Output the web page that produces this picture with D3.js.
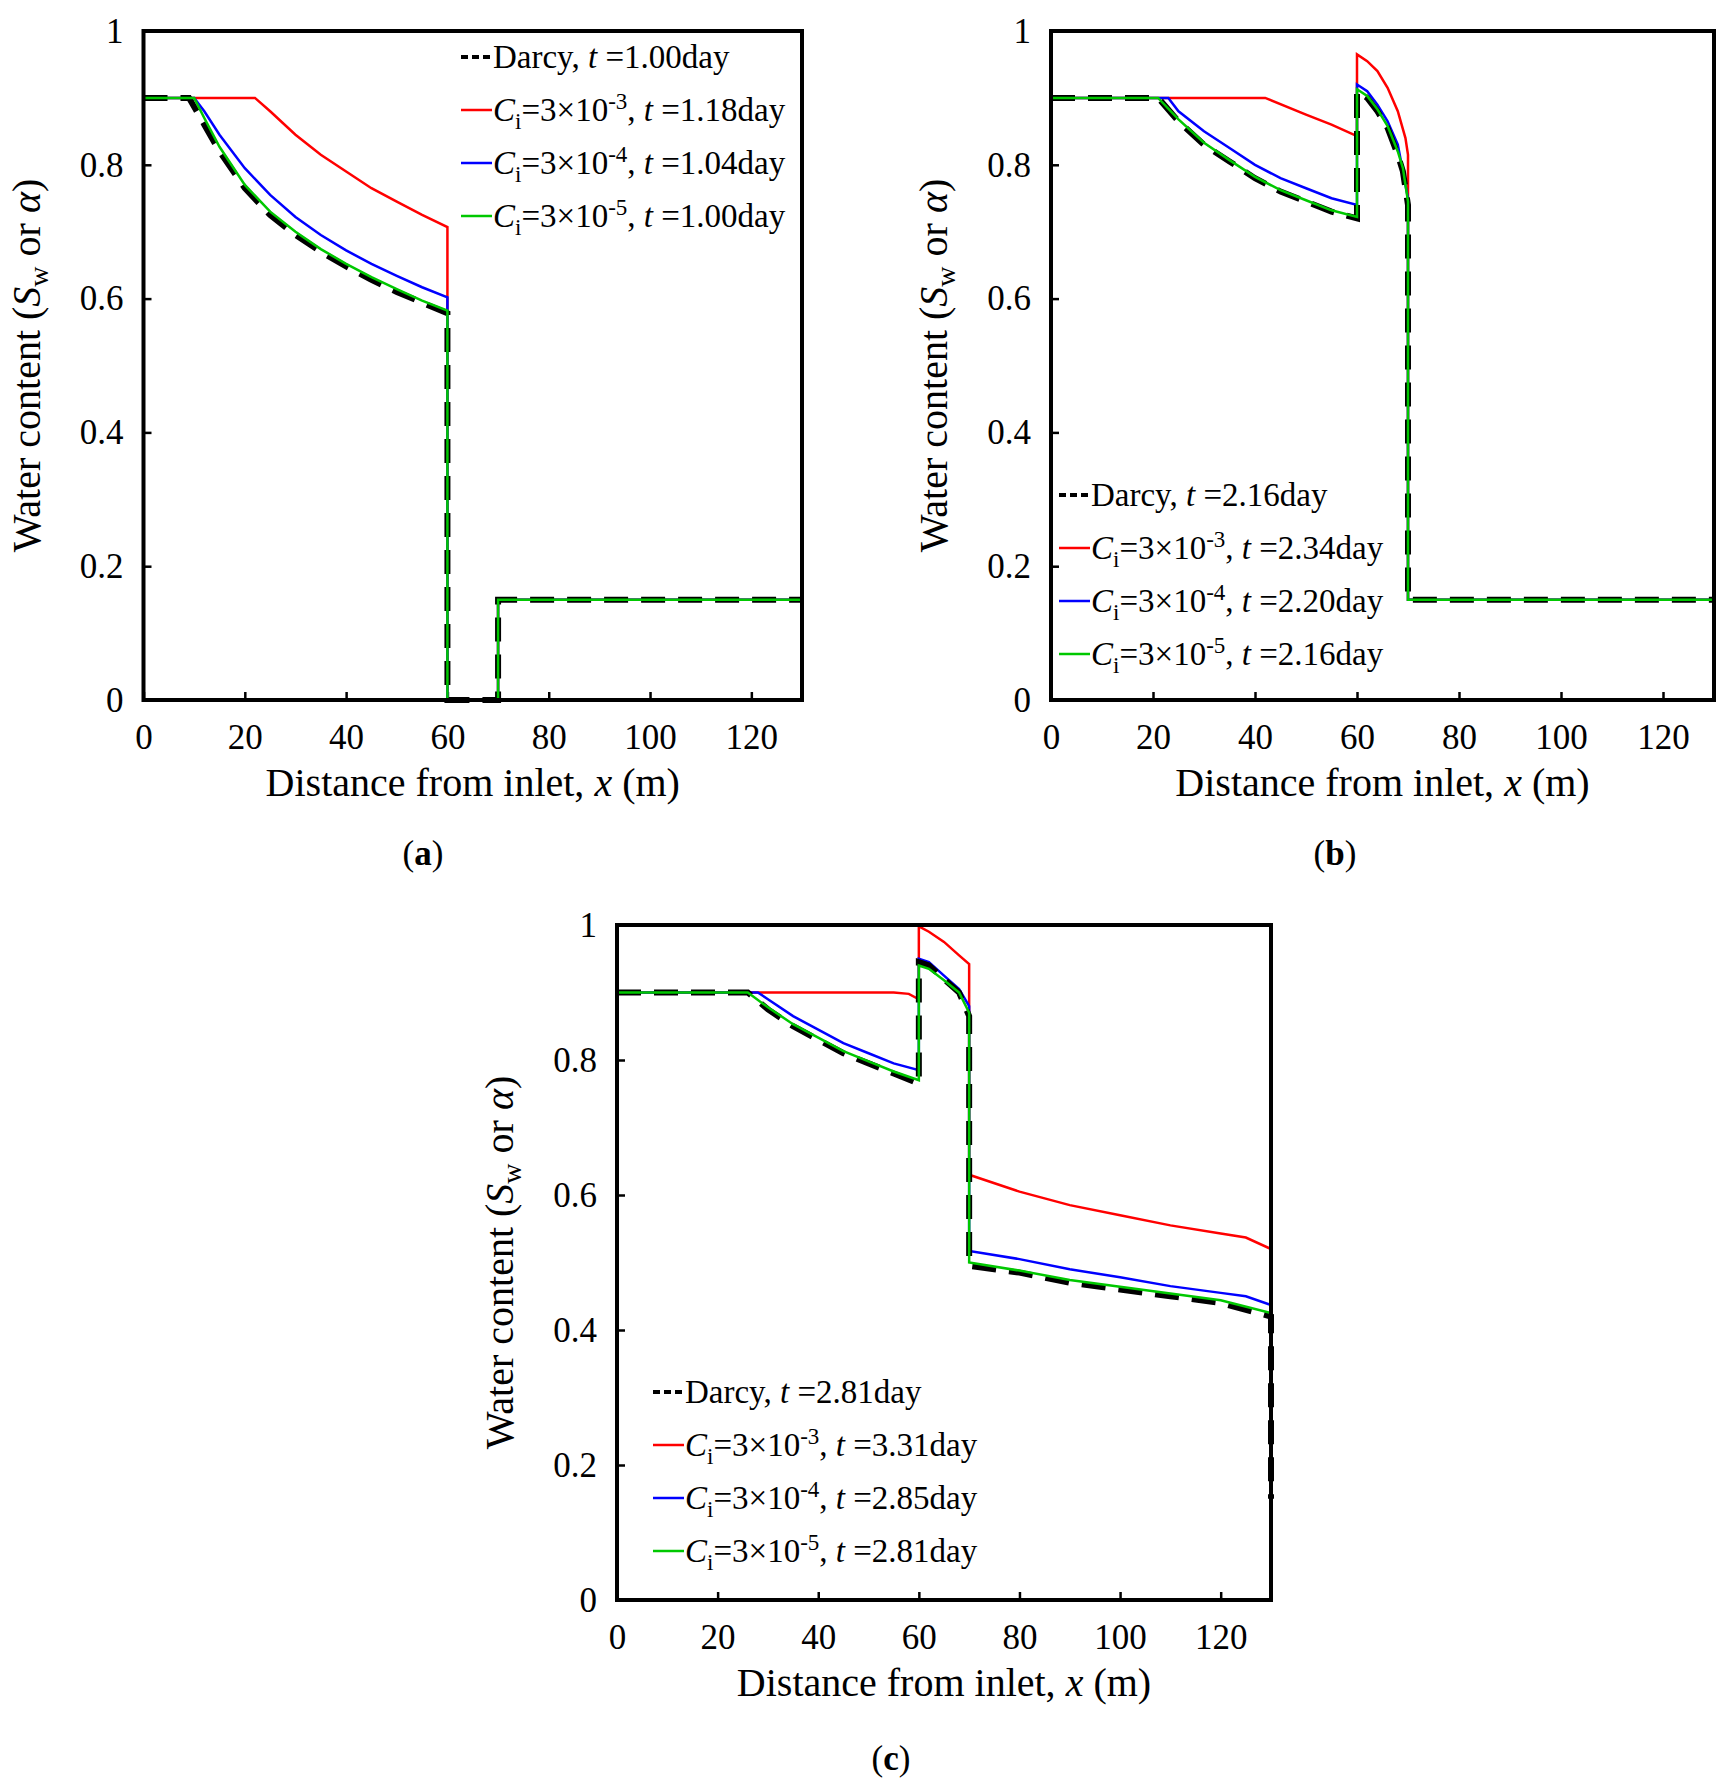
<!DOCTYPE html>
<html><head><meta charset="utf-8">
<script src="https://cdn.jsdelivr.net/npm/d3@7"></script>
<style>body{margin:0;background:#fff}</style></head>
<body><div id="vis"></div>
<script>
const WIDTH = 1731, HEIGHT = 1785;

// panel (a)
const a_darcy = [[0,.9],[9,.9],[12,.86],[15,.82],[20,.765],[25,.725],[30,.695],[35,.67],[40,.648],[45,.628],[50,.61],[55,.594],[60,.578],[60,0],[70,0],[70,.15],[130,.15]];
const a_green = [[0,.9],[10,.9],[12,.87],[15,.827],[20,.77],[25,.73],[30,.7],[35,.674],[40,.652],[45,.632],[50,.614],[55,.597],[60,.582],[60,0],[70,0],[70,.15],[130,.15]];
const a_blue = [[0,.9],[10,.9],[12,.88],[15,.845],[20,.795],[25,.755],[30,.722],[35,.695],[40,.672],[45,.652],[50,.634],[55,.617],[60,.602],[60,0],[70,0],[70,.15],[130,.15]];
const a_red = [[0,.9],[22,.9],[25,.88],[30,.845],[35,.815],[40,.79],[45,.765],[50,.745],[55,.725],[60,.707],[60,0],[70,0],[70,.15],[130,.15]];
// panel (b)
const b_darcy = [[0,.9],[21,.9],[25,.865],[30,.83],[35,.805],[40,.78],[45,.76],[50,.745],[55,.73],[60,.72],[60,.91],[62,.9],[64,.88],[66,.855],[68,.815],[69,.79],[70,.74],[70,.15],[130,.15]];
const b_green = [[0,.9],[21,.9],[25,.868],[30,.833],[35,.807],[40,.782],[45,.762],[50,.747],[55,.732],[60,.722],[60,.913],[62,.903],[64,.883],[66,.858],[68,.82],[69,.795],[70,.745],[70,.15],[130,.15]];
const b_blue = [[0,.9],[23,.9],[25,.88],[30,.85],[35,.825],[40,.8],[45,.78],[50,.765],[55,.75],[60,.74],[60,.92],[62,.91],[64,.89],[66,.865],[68,.83],[70,.75],[70,.15],[130,.15]];
const b_red = [[0,.9],[42,.9],[50,.875],[55,.86],[60,.843],[60,.965],[62,.955],[64,.94],[66,.915],[68,.88],[69.5,.84],[70,.815],[70,.15],[130,.15]];
// panel (c)
const c_darcy = [[0,.9],[26,.9],[30,.875],[35,.85],[40,.83],[45,.81],[50,.795],[55,.78],[60,.765],[60,.945],[62,.94],[65,.92],[68,.9],[70,.865],[70,.495],[80,.485],[90,.47],[100,.46],[110,.45],[120,.44],[130,.42],[130,.15]];
const c_green = [[0,.9],[26,.9],[30,.878],[35,.853],[40,.833],[45,.813],[50,.798],[55,.783],[60,.77],[60,.94],[62,.935],[65,.918],[68,.9],[70,.87],[70,.5],[80,.488],[90,.474],[100,.464],[110,.454],[120,.444],[130,.425],[130,.15]];
const c_blue = [[0,.9],[28,.9],[30,.89],[35,.865],[40,.845],[45,.825],[50,.81],[55,.795],[60,.785],[60,.95],[62,.945],[65,.925],[68,.905],[70,.88],[70,.517],[80,.505],[90,.49],[100,.478],[110,.465],[120,.455],[125,.45],[130,.437],[130,.42]];
const c_red = [[0,.9],[55,.9],[58,.898],[60,.89],[60,.998],[62,.99],[65,.975],[68,.955],[70,.942],[70,.63],[80,.605],[90,.585],[100,.57],[110,.555],[120,.543],[125,.537],[130,.52],[130,.42]];

const x_ticks = [0,20,40,60,80,100,120];
const y_ticks = [0,0.2,0.4,0.6,0.8,1];
const y_tick_labels = ['0','0.2','0.4','0.6','0.8','1'];
const legend_a = [['Darcy','1.00'],['-3','1.18'],['-4','1.04'],['-5','1.00']];
const legend_b = [['Darcy','2.16'],['-3','2.34'],['-4','2.20'],['-5','2.16']];
const legend_c = [['Darcy','2.81'],['-3','3.31'],['-4','2.85'],['-5','2.81']];

const FONT = '"Liberation Serif", "Times New Roman", serif';
const SVG = d3.select('#vis').append('svg').attr('width', WIDTH).attr('height', HEIGHT)
  .style('font-family', FONT);

const panels = [
  {box:[143.5,31,802,700], series:[a_red,a_blue,a_darcy,a_green], legend:legend_a, lx:461, ly:57, cap:'a', cx:423, cy:865},
  {box:[1051,31,1714,700], series:[b_red,b_blue,b_darcy,b_green], legend:legend_b, lx:1059, ly:495, cap:'b', cx:1335, cy:865},
  {box:[617,925,1271,1600], series:[c_red,c_blue,c_darcy,c_green], legend:legend_c, lx:653, ly:1392, cap:'c', cx:891, cy:1770}
];
const styles = [
  {stroke:'#ff0000', w:2.5, dash:null},
  {stroke:'#0000ff', w:2.5, dash:null},
  {stroke:'#000000', w:6, dash:'24,13'},
  {stroke:'#00c800', w:2.5, dash:null}
];
const legend_style = [2, 0, 1, 3];

panels.forEach(p => {
  const [x0,y0,x1,y1] = p.box;
  const sx = d3.scaleLinear().domain([0,130]).range([x0,x1]);
  const sy = d3.scaleLinear().domain([0,1]).range([y1,y0]);
  const g = SVG.append('g');
  const line = d3.line().x(d => sx(d[0])).y(d => sy(d[1]));

  g.append('g').attr('transform', `translate(0,${y1})`)
    .call(d3.axisBottom(sx).tickValues(x_ticks).tickSize(-8).tickPadding(24).tickFormat(d3.format('d')))
    .call(s => { s.select('.domain').remove(); s.selectAll('text').attr('font-size', 35).attr('font-family', FONT).attr('fill','#000'); s.selectAll('line').attr('stroke-width',2.5); });
  g.append('g').attr('transform', `translate(${x0},0)`)
    .call(d3.axisLeft(sy).tickValues(y_ticks).tickSize(-8).tickPadding(20).tickFormat((d,i) => y_tick_labels[i]))
    .call(s => { s.select('.domain').remove(); s.selectAll('text').attr('font-size', 35).attr('font-family', FONT).attr('fill','#000'); s.selectAll('line').attr('stroke-width',2.5); });

  p.series.forEach((d, i) => {
    const st = styles[i];
    g.append('path').attr('d', line(d)).attr('fill','none')
      .attr('stroke', st.stroke).attr('stroke-width', st.w)
      .attr('stroke-dasharray', st.dash);
  });

  g.append('rect').attr('x', x0).attr('y', y0).attr('width', x1-x0).attr('height', y1-y0)
    .attr('fill','none').attr('stroke','#000').attr('stroke-width',4);

  // axis titles
  const xt = g.append('text').attr('x', (x0+x1)/2).attr('y', y1+96).attr('text-anchor','middle').attr('font-size',40);
  xt.append('tspan').text('Distance from inlet, ');
  xt.append('tspan').attr('font-style','italic').text('x');
  xt.append('tspan').text(' (m)');
  const yt = g.append('text').attr('transform', `translate(${x0-104},${(y0+y1)/2}) rotate(-90)`)
    .attr('text-anchor','middle').attr('font-size',40);
  yt.append('tspan').text('Water content (');
  yt.append('tspan').attr('font-style','italic').text('S');
  yt.append('tspan').attr('font-size',28).attr('dy',8).text('w');
  yt.append('tspan').attr('dy',-8).text(' or ');
  yt.append('tspan').attr('font-style','italic').text('α');
  yt.append('tspan').text(')');

  // legend
  p.legend.forEach((e, i) => {
    const y = p.ly + i*53;
    const st = styles[legend_style[i]];
    g.append('line').attr('x1', p.lx).attr('x2', p.lx+31).attr('y1', y).attr('y2', y)
      .attr('stroke', st.stroke).attr('stroke-width', i === 0 ? 4 : 2.5)
      .attr('stroke-dasharray', i === 0 ? '7,4' : null);
    const t = g.append('text').attr('x', p.lx+32).attr('y', y+11).attr('font-size',33);
    if (i === 0) {
      t.append('tspan').text('Darcy, ');
    } else {
      t.append('tspan').attr('font-style','italic').text('C');
      t.append('tspan').attr('font-size',23).attr('dy',8).text('i');
      t.append('tspan').attr('dy',-8).text('=3×10');
      t.append('tspan').attr('font-size',23).attr('dy',-12).text(e[0]);
      t.append('tspan').attr('dy',12).text(', ');
    }
    t.append('tspan').attr('font-style','italic').text('t');
    t.append('tspan').text(' =' + e[1] + 'day');
  });

  const cap = g.append('text').attr('x', p.cx).attr('y', p.cy).attr('text-anchor','middle').attr('font-size',35);
  cap.append('tspan').text('(');
  cap.append('tspan').attr('font-weight','bold').text(p.cap);
  cap.append('tspan').text(')');
});
</script></body></html>
